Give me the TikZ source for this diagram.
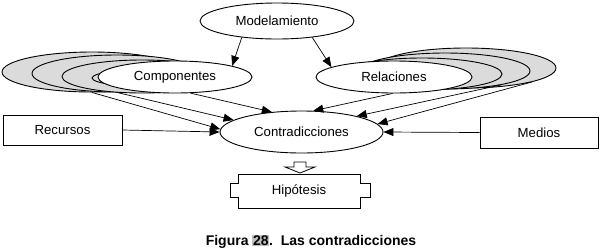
\documentclass[tikz,border=0pt]{standalone}
\usepackage{fontspec}
\setmainfont{Liberation Sans}
\usetikzlibrary{shapes.geometric,arrows.meta}
\begin{document}
\begin{tikzpicture}[x=1pt,y=-1pt, line width=0.9pt,
  lbl/.style={font=\fontsize{13.2}{15}\selectfont},
  oval/.style={ellipse, draw, fill=white, inner sep=0pt, lbl},
  shad/.style={ellipse, draw, fill=gray!28, inner sep=0pt},
  box/.style={rectangle, draw, inner sep=0pt, lbl},
  arr/.style={-{Triangle[length=10pt,width=8pt]}, line width=0.7pt}]
\useasboundingbox (0,0) rectangle (602,250);
% left shadows
\node[shad, minimum width=180pt, minimum height=40pt] (sL1) at (92,72) {};
\node[shad, minimum width=170pt, minimum height=37pt] (sL2) at (117,73.5) {};
\node[shad, minimum width=160pt, minimum height=33pt] (sL3) at (142,76.5) {};
\node[shad, minimum width=156pt, minimum height=20pt] (sL4) at (170,78) {};
% right shadows
\node[shad, minimum width=180pt, minimum height=40pt] (sR1) at (466,68) {};
\node[shad, minimum width=170pt, minimum height=36pt] (sR2) at (445,71) {};
\node[shad, minimum width=160pt, minimum height=32pt] (sR3) at (422,74) {};
% main nodes
\node[oval, minimum width=154pt, minimum height=36pt] (mod) at (277,21) {Modelamiento};
\node[oval, minimum width=154pt, minimum height=32pt] (comp) at (175,77) {Componentes};
\node[oval, minimum width=156pt, minimum height=32pt] (rel) at (394,77) {Relaciones};
\node[oval, minimum width=163pt, minimum height=42pt] (con) at (301.5,132) {Contradicciones};
\node[box, minimum width=119pt, minimum height=30pt] (rec) at (62.5,130) {Recursos};
\node[box, minimum width=118pt, minimum height=31pt] (med) at (539,132.5) {Medios};
\node[lbl, inner sep=0pt, minimum width=122pt, minimum height=34pt] (hip) at (299,191.5) {Hipótesis};
% Hipotesis outline
\draw (238,174.5) -- (360,174.5) -- (360,183) -- (370,183) -- (370,197) -- (360,197)
  -- (360,208.5) -- (238,208.5) -- (238,197) -- (230,197) -- (230,183) -- (238,183) -- cycle;
% hollow block arrow
\draw[line width=0.8pt, fill=white] (294,162) -- (306,162) -- (306,167) -- (315,167) -- (300,173)
  -- (285,167) -- (294,167) -- cycle;
% connectors
\draw[arr] (mod.205) -- (comp.11);
\draw[arr] (mod.335) -- (rel.171);
\draw[arr] (comp.314) -- (con.146);
\draw[arr] (sL2.south) -- (con.170);
\draw[arr] (sL1.south) -- (con.178);
\draw[arr] (rel.265) -- (con.61);
\draw[arr] (sR2.346) -- (con.16);
\draw[arr] (sR1.348) -- (con.6);
\draw[arr] (rec.east) -- (con.west);
\draw[arr] (med.west) -- (con.east);
% caption
\node[font=\fontsize{14}{16}\selectfont\bfseries, inner sep=0pt, anchor=base] (cap) at (311,245)
  {Figura {\setlength{\fboxsep}{0.6pt}\colorbox{gray!50}{28}}.\ \ Las contradicciones};
\end{tikzpicture}
\end{document}
